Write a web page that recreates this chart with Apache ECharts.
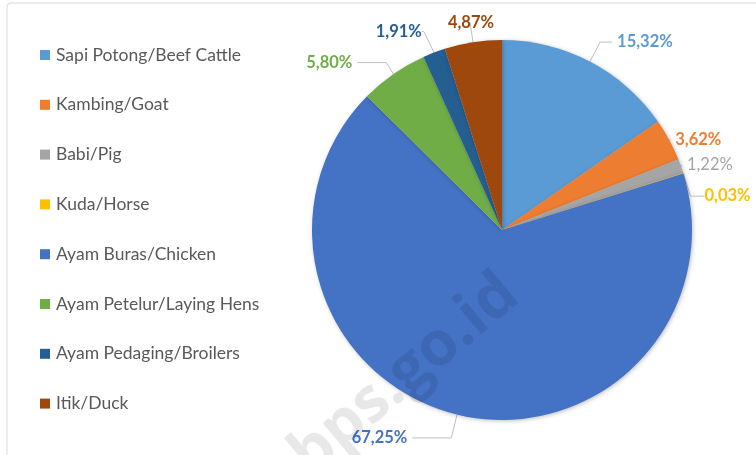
<!DOCTYPE html>
<html><head><meta charset="utf-8">
<script src="https://cdn.jsdelivr.net/npm/echarts@6/dist/echarts.min.js"></script>
<style>html,body{margin:0;padding:0;background:#fff}#c{width:756px;height:455px}</style>
</head><body><div id="c"></div>
<script>
const categories = ['Sapi Potong/Beef Cattle','Kambing/Goat','Babi/Pig','Kuda/Horse','Ayam Buras/Chicken','Ayam Petelur/Laying Hens','Ayam Pedaging/Broilers','Itik/Duck'];
const values = [15.32, 3.62, 1.22, 0.03, 67.25, 5.80, 1.91, 4.87];
const colors = ['#5B9BD5','#ED7D31','#A5A5A5','#FFC000','#4472C4','#70AD47','#255E91','#9E480E'];
// leader line lengths [length, length2], label gap to line, and label nudges [dx, dy] per slice (style only)
const leader = [[22,12],[1,0],[3,1],[6,14],[24,39],[14,29],[30,2],[20,2]];
const labelGap = [5,5,5,5,5,5,5,-26];
const nudge = [[0,0],[0,0],[0,0],[-3,12],[0,0],[0,0],[14,-10],[0,0]];

const chart = echarts.init(document.getElementById('c'));
chart.setOption({
  animation: false,
  color: colors,
  graphic: [
    {type:'rect', shape:{x:7,y:3,width:800,height:500,r:4}, style:{fill:'none',stroke:'#d9d9d9',lineWidth:1}, z:0},
    {type:'text', x:405, y:375, rotation: 40*Math.PI/180, z:100,
     style:{text:'bps.go.id', font:'bold 62px "Open Sans"', fill:'rgba(0,0,0,0.09)', align:'center', verticalAlign:'middle'}}
  ],
  legend: {
    orient:'vertical', left:35, top:41, itemWidth:10, itemHeight:10, itemGap:31.8,
    icon:'rect',
    textStyle:{fontFamily:'Lato', fontSize:17.5, color:'#595959', padding:[0,0,0,1]},
    data: categories
  },
  series: [{
    type:'pie', center:[502,230], radius:190, startAngle:90, clockwise:true,
    itemStyle:{shadowBlur:4, shadowColor:'rgba(0,0,0,0.25)', shadowOffsetX:1, shadowOffsetY:1},
    label:{show:true, position:'outside', fontFamily:'Lato', fontWeight:'bold', fontSize:16.5,
      overflow:'none',
      formatter: p => p.value.toFixed(2).replace('.', ',') + '%'},
    labelLine:{show:true, lineStyle:{color:'#bfbfbf', width:1}},
    labelLayout: p => {
      const d = nudge[p.dataIndex];
      if (!d[0] && !d[1]) return {};
      const r = p.labelRect;
      return {x: r.x + d[0], y: r.y + r.height/2 + d[1], align:'left', verticalAlign:'middle'};
    },
    data: categories.map((n,i)=>({name:n, value:values[i],
      label:{color:colors[i], fontWeight: i===2 ? 'normal' : 'bold', distanceToLabelLine: labelGap[i]},
      labelLine:{length:leader[i][0], length2:leader[i][1]}}))
  }]
});
</script></body></html>
